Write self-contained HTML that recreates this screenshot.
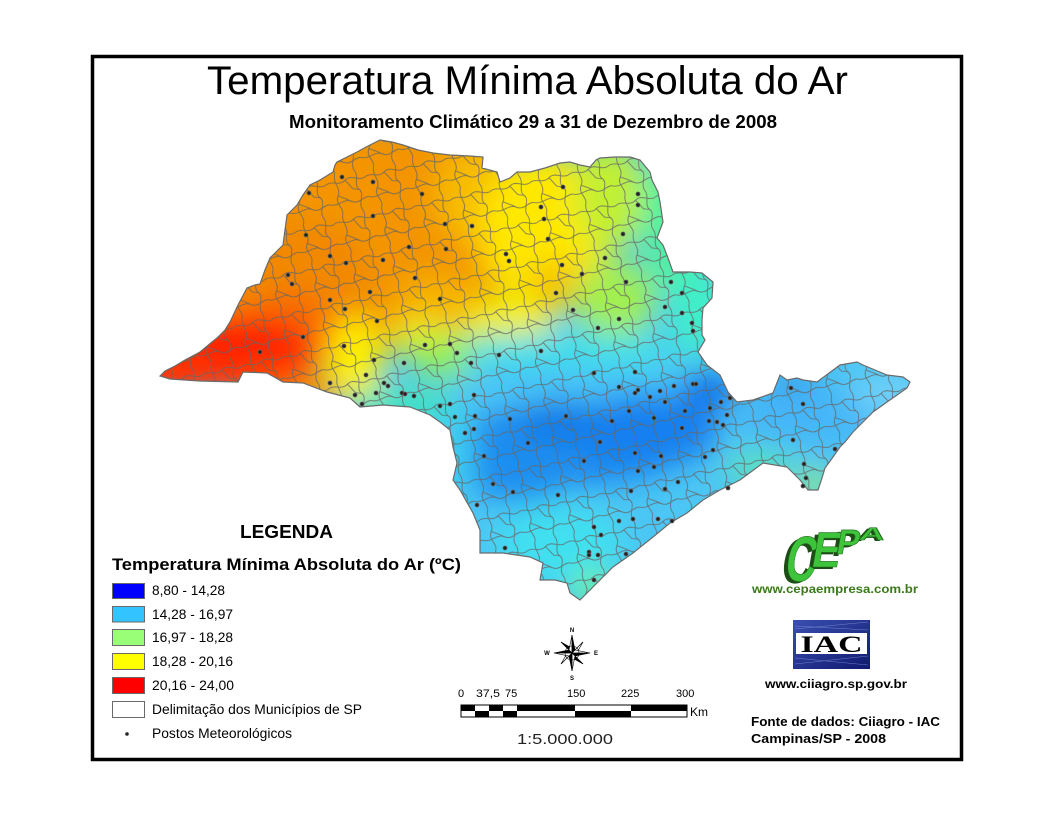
<!DOCTYPE html>
<html><head><meta charset="utf-8"><style>
html,body{margin:0;padding:0;background:#fff;}
svg{display:block;font-family:"Liberation Sans",Arial,sans-serif;}
</style></head><body>
<svg width="1056" height="816" viewBox="0 0 1056 816" xmlns="http://www.w3.org/2000/svg">
<defs>
<clipPath id="sp"><path id="spPath" d="M160,376 L165,371 L175,366 L185,360 L200,352 L212,342 L217,338 L225,330 L230,322 L238,305 L247,288 L255,285 L260,284 L265,270 L270,258 L278,250 L283,245 L285,230 L287,215 L292,210 L297,205 L303,195 L310,185 L320,180 L333,172 L335,165 L337,162 L345,158 L357,152 L368,146 L380,140 L392,142 L403,145 L418,150 L433,153 L450,155 L470,156 L483,157 L482,168 L497,172 L500,182 L510,178 L517,172 L530,172 L545,168 L560,163 L570,162 L580,165 L590,167 L596,160 L600,158 L615,157 L630,157 L640,160 L650,172 L652,180 L658,192 L660,202 L663,222 L657,238 L663,245 L668,258 L673,272 L690,272 L702,273 L713,282 L712,298 L703,308 L702,320 L702,335 L705,340 L698,352 L707,365 L720,375 L728,392 L737,402 L753,400 L773,393 L780,375 L787,380 L797,378 L803,380 L817,382 L840,365 L857,362 L863,365 L887,375 L903,377 L910,382 L907,388 L887,402 L873,412 L863,422 L853,432 L845,442 L840,447 L833,457 L825,468 L822,478 L818,490 L808,490 L800,480 L787,467 L763,463 L740,480 L720,490 L703,500 L687,513 L670,523 L653,537 L633,553 L613,567 L597,583 L585,595 L580,600 L570,593 L567,583 L555,580 L540,580 L543,563 L530,557 L503,553 L480,553 L480,530 L473,513 L460,490 L453,480 L457,463 L453,447 L450,430 L440,422 L430,415 L410,407 L383,405 L360,407 L350,398 L327,392 L303,383 L283,382 L267,373 L243,372 L238,382 L200,381 L170,379 Z"/></clipPath>
<filter id="blur" x="0" y="0" width="1056" height="816" filterUnits="userSpaceOnUse"><feGaussianBlur stdDeviation="15"/></filter>
<pattern id="mesh" width="40" height="40" patternUnits="userSpaceOnUse" patternTransform="rotate(-12)">
<g fill="none" stroke="#666" stroke-width="0.9">
<path d="M0,9 C7,5 13,13 20,8 S33,12 40,9"/>
<path d="M0,29 C9,33 15,25 22,30 S35,27 40,29"/>
<path d="M11,0 C7,9 15,15 10,22 S13,35 11,40"/>
<path d="M31,0 C35,7 27,15 32,20 S28,33 31,40"/>
<path d="M20,8 L26,18 L32,20"/>
<path d="M10,22 L18,27 L22,30"/>
</g>
</pattern>
<linearGradient id="iacb" x1="0" y1="0" x2="1" y2="1"><stop offset="0" stop-color="#3a4fb0"/><stop offset="1" stop-color="#101a70"/></linearGradient>
</defs>

<!-- frame -->
<rect x="92.5" y="56.5" width="869" height="703" fill="none" stroke="#000" stroke-width="3.5"/>

<!-- titles -->
<text x="207" y="94" font-size="40" textLength="641" lengthAdjust="spacingAndGlyphs">Temperatura Mínima Absoluta do Ar</text>
<text x="289" y="128" font-size="18.5" font-weight="bold" textLength="488" lengthAdjust="spacingAndGlyphs">Monitoramento Climático 29 a 31 de Dezembro de 2008</text>

<!-- map -->
<g clip-path="url(#sp)">
<rect x="150" y="130" width="780" height="480" fill="#4cc6f4"/>
<g filter="url(#blur)">
<rect x="140" y="120" width="360" height="230" fill="#f39400"/>
<ellipse cx="390" cy="225" rx="140" ry="105" fill="#f39400"/>
<ellipse cx="300" cy="280" rx="70" ry="60" fill="#f28800"/>
<ellipse cx="290" cy="335" rx="45" ry="45" fill="#f86a00"/>
<ellipse cx="230" cy="352" rx="85" ry="40" fill="#ff2400"/>
<ellipse cx="175" cy="372" rx="50" ry="25" fill="#ff3000"/>
<ellipse cx="270" cy="385" rx="40" ry="20" fill="#ff4a00"/>
<ellipse cx="310" cy="395" rx="30" ry="18" fill="#f88800"/>
<ellipse cx="480" cy="195" rx="45" ry="50" fill="#f7bc00"/>
<ellipse cx="440" cy="305" rx="45" ry="30" fill="#f6b400"/>
<ellipse cx="545" cy="230" rx="65" ry="80" fill="#ffe800"/>
<ellipse cx="555" cy="285" rx="30" ry="25" fill="#f6c400"/>
<ellipse cx="510" cy="320" rx="45" ry="22" fill="#f4f000"/>
<ellipse cx="355" cy="360" rx="28" ry="45" fill="#fff000"/>
<ellipse cx="420" cy="335" rx="30" ry="16" fill="#e8f020"/>
<ellipse cx="470" cy="345" rx="25" ry="15" fill="#a8f050"/>
<ellipse cx="610" cy="195" rx="35" ry="55" fill="#c2f030"/>
<ellipse cx="615" cy="300" rx="40" ry="40" fill="#a2f050"/>
<ellipse cx="675" cy="220" rx="35" ry="75" fill="#50f0a0"/>
<ellipse cx="700" cy="310" rx="30" ry="45" fill="#40f0c8"/>
<ellipse cx="445" cy="358" rx="35" ry="20" fill="#90f050"/>
<ellipse cx="400" cy="405" rx="55" ry="16" fill="#40e8b8"/>
<ellipse cx="570" cy="352" rx="110" ry="20" fill="#40e0e8"/>
<ellipse cx="570" cy="385" rx="120" ry="20" fill="#48c4f8"/>
<ellipse cx="570" cy="445" rx="120" ry="42" fill="#1a8af0"/>
<ellipse cx="650" cy="430" rx="70" ry="38" fill="#1280f0"/>
<ellipse cx="520" cy="470" rx="55" ry="32" fill="#1e8ef0"/>
<ellipse cx="710" cy="390" rx="28" ry="18" fill="#0a6ee8"/>
<ellipse cx="560" cy="420" rx="45" ry="20" fill="#0a78e8"/>
<ellipse cx="795" cy="388" rx="25" ry="12" fill="#0a62e0"/>
<ellipse cx="815" cy="415" rx="80" ry="30" fill="#44b6f8"/>
<ellipse cx="890" cy="395" rx="40" ry="22" fill="#70d0f8"/>
<ellipse cx="760" cy="468" rx="35" ry="14" fill="#60e8b0"/>
<ellipse cx="815" cy="485" rx="18" ry="14" fill="#a0f070"/>
<ellipse cx="560" cy="545" rx="65" ry="40" fill="#40e0f0"/>
<ellipse cx="592" cy="588" rx="22" ry="20" fill="#70f0a0"/>
<ellipse cx="455" cy="450" rx="18" ry="45" fill="#40d0f0"/>
</g>
<rect x="150" y="130" width="780" height="480" fill="url(#mesh)" opacity="0.85"/>
</g>
<use href="#spPath" fill="none" stroke="#6a6a6a" stroke-width="1.2"/>

<!-- stations -->
<g fill="#222" stroke="#666" stroke-width="0.8">
<circle cx="342" cy="177" r="2"/><circle cx="373" cy="182" r="2"/><circle cx="309" cy="193" r="2"/><circle cx="422" cy="194" r="2"/><circle cx="373" cy="216" r="2"/><circle cx="445" cy="224" r="2"/><circle cx="472" cy="226" r="2"/><circle cx="306" cy="235" r="2"/><circle cx="409" cy="247" r="2"/><circle cx="446" cy="249" r="2"/><circle cx="330" cy="256" r="2"/><circle cx="346" cy="263" r="2"/><circle cx="383" cy="260" r="2"/><circle cx="506" cy="254" r="2"/><circle cx="509" cy="261" r="2"/><circle cx="288" cy="275" r="2"/><circle cx="292" cy="284" r="2"/><circle cx="415" cy="278" r="2"/><circle cx="370" cy="292" r="2"/><circle cx="440" cy="299" r="2"/><circle cx="330" cy="300" r="2"/><circle cx="345" cy="309" r="2"/><circle cx="377" cy="321" r="2"/><circle cx="303" cy="337" r="2"/><circle cx="260" cy="352" r="2"/><circle cx="344" cy="346" r="2"/><circle cx="425" cy="345" r="2"/><circle cx="450" cy="344" r="2"/><circle cx="457" cy="353" r="2"/><circle cx="499" cy="355" r="2"/><circle cx="374" cy="360" r="2"/><circle cx="404" cy="363" r="2"/><circle cx="471" cy="363" r="2"/><circle cx="366" cy="375" r="2"/><circle cx="384" cy="383" r="2"/><circle cx="388" cy="386" r="2"/><circle cx="330" cy="383" r="2"/><circle cx="355" cy="395" r="2"/><circle cx="376" cy="393" r="2"/><circle cx="402" cy="393" r="2"/><circle cx="405" cy="394" r="2"/><circle cx="414" cy="396" r="2"/><circle cx="362" cy="404" r="2"/><circle cx="440" cy="406" r="2"/><circle cx="450" cy="404" r="2"/><circle cx="474" cy="395" r="2"/><circle cx="455" cy="417" r="2"/><circle cx="475" cy="416" r="2"/><circle cx="510" cy="419" r="2"/>
<circle cx="563" cy="187" r="2"/><circle cx="541" cy="207" r="2"/><circle cx="544" cy="219" r="2"/><circle cx="548" cy="239" r="2"/><circle cx="638" cy="194" r="2"/><circle cx="638" cy="205" r="2"/><circle cx="623" cy="234" r="2"/><circle cx="605" cy="258" r="2"/><circle cx="562" cy="265" r="2"/><circle cx="582" cy="274" r="2"/><circle cx="556" cy="293" r="2"/><circle cx="626" cy="282" r="2"/><circle cx="671" cy="282" r="2"/><circle cx="682" cy="293" r="2"/><circle cx="665" cy="307" r="2"/><circle cx="682" cy="313" r="2"/><circle cx="573" cy="310" r="2"/><circle cx="619" cy="319" r="2"/><circle cx="692" cy="323" r="2"/><circle cx="693" cy="331" r="2"/><circle cx="598" cy="328" r="2"/><circle cx="541" cy="351" r="2"/><circle cx="594" cy="373" r="2"/><circle cx="635" cy="372" r="2"/><circle cx="619" cy="387" r="2"/><circle cx="638" cy="390" r="2"/><circle cx="635" cy="393" r="2"/><circle cx="650" cy="397" r="2"/><circle cx="660" cy="391" r="2"/><circle cx="674" cy="386" r="2"/><circle cx="665" cy="402" r="2"/><circle cx="693" cy="384" r="2"/><circle cx="696" cy="384" r="2"/><circle cx="730" cy="398" r="2"/><circle cx="721" cy="402" r="2"/><circle cx="710" cy="408" r="2"/><circle cx="685" cy="411" r="2"/><circle cx="727" cy="415" r="2"/><circle cx="629" cy="411" r="2"/><circle cx="654" cy="418" r="2"/><circle cx="709" cy="421" r="2"/><circle cx="717" cy="422" r="2"/><circle cx="723" cy="425" r="2"/><circle cx="682" cy="428" r="2"/><circle cx="566" cy="416" r="2"/><circle cx="612" cy="421" r="2"/><circle cx="791" cy="388" r="2"/><circle cx="803" cy="404" r="2"/>
<circle cx="465" cy="433" r="2"/><circle cx="474" cy="429" r="2"/><circle cx="484" cy="456" r="2"/><circle cx="528" cy="443" r="2"/><circle cx="600" cy="442" r="2"/><circle cx="584" cy="461" r="2"/><circle cx="635" cy="453" r="2"/><circle cx="661" cy="456" r="2"/><circle cx="654" cy="467" r="2"/><circle cx="638" cy="471" r="2"/><circle cx="678" cy="482" r="2"/><circle cx="665" cy="489" r="2"/><circle cx="631" cy="491" r="2"/><circle cx="558" cy="495" r="2"/><circle cx="513" cy="492" r="2"/><circle cx="493" cy="484" r="2"/><circle cx="477" cy="505" r="2"/><circle cx="594" cy="527" r="2"/><circle cx="601" cy="535" r="2"/><circle cx="619" cy="521" r="2"/><circle cx="633" cy="519" r="2"/><circle cx="658" cy="519" r="2"/><circle cx="672" cy="521" r="2"/><circle cx="505" cy="548" r="2"/><circle cx="589" cy="552" r="2"/><circle cx="589" cy="555" r="2"/><circle cx="598" cy="555" r="2"/><circle cx="626" cy="554" r="2"/><circle cx="594" cy="580" r="2"/><circle cx="705" cy="457" r="2"/><circle cx="713" cy="450" r="2"/><circle cx="793" cy="440" r="2"/><circle cx="804" cy="464" r="2"/><circle cx="806" cy="478" r="2"/><circle cx="803" cy="486" r="2"/><circle cx="728" cy="488" r="2"/><circle cx="835" cy="449" r="2"/>
</g>

<!-- legend -->
<text x="240" y="538" font-size="18" font-weight="bold" textLength="93" lengthAdjust="spacingAndGlyphs">LEGENDA</text>
<text x="112" y="570" font-size="16.5" font-weight="bold" textLength="349" lengthAdjust="spacingAndGlyphs">Temperatura Mínima Absoluta do Ar (ºC)</text>
<g stroke="#6a6a6a" stroke-width="1">
<rect x="112.5" y="583.5" width="32" height="15" fill="#0000ff"/>
<rect x="112.5" y="606.5" width="32" height="15.5" fill="#33c4ff"/>
<rect x="112.5" y="629.5" width="32" height="16" fill="#99ff77"/>
<rect x="112.5" y="653.5" width="32" height="16" fill="#ffff00"/>
<rect x="112.5" y="677.5" width="32" height="16" fill="#ff0000"/>
<rect x="112.5" y="701.5" width="32" height="16" fill="#ffffff"/>
</g>
<circle cx="127" cy="734" r="1.6" fill="#222" stroke="#555" stroke-width="0.6"/>
<g font-size="13.5">
<text x="152" y="595" textLength="73" lengthAdjust="spacingAndGlyphs">8,80 - 14,28</text>
<text x="152" y="619" textLength="81" lengthAdjust="spacingAndGlyphs">14,28 - 16,97</text>
<text x="152" y="642" textLength="81" lengthAdjust="spacingAndGlyphs">16,97 - 18,28</text>
<text x="152" y="666" textLength="81" lengthAdjust="spacingAndGlyphs">18,28 - 20,16</text>
<text x="152" y="690" textLength="82" lengthAdjust="spacingAndGlyphs">20,16 - 24,00</text>
<text x="152" y="714" textLength="210" lengthAdjust="spacingAndGlyphs">Delimitação dos Municípios de SP</text>
<text x="152" y="738" textLength="140" lengthAdjust="spacingAndGlyphs">Postos Meteorológicos</text>
</g>

<!-- compass -->
<g transform="translate(572,653)">
<g stroke="#000" stroke-width="0.6">
<polygon points="0,0 -3,-3 -11,-11" fill="#fff"/><polygon points="0,0 3,-3 -11,-11" fill="#000"/>
<polygon points="0,0 3,-3 11,-11" fill="#000"/><polygon points="0,0 3,3 11,-11" fill="#fff"/>
<polygon points="0,0 3,3 11,11" fill="#fff"/><polygon points="0,0 -3,3 11,11" fill="#000"/>
<polygon points="0,0 -3,3 -11,11" fill="#000"/><polygon points="0,0 -3,-3 -11,11" fill="#fff"/>
<polygon points="0,0 -3,-3 0,-18" fill="#fff"/><polygon points="0,0 3,-3 0,-18" fill="#000"/>
<polygon points="0,0 3,-3 18,0" fill="#fff"/><polygon points="0,0 3,3 18,0" fill="#000"/>
<polygon points="0,0 3,3 0,18" fill="#fff"/><polygon points="0,0 -3,3 0,18" fill="#000"/>
<polygon points="0,0 -3,3 -18,0" fill="#fff"/><polygon points="0,0 -3,-3 -18,0" fill="#000"/>
</g>
<circle r="7" fill="none" stroke="#000" stroke-width="0.6"/>
</g>
<g font-size="6" font-weight="bold" text-anchor="middle">
<text x="572" y="632">N</text><text x="572" y="680">S</text><text x="547" y="655">W</text><text x="596" y="655">E</text>
</g>

<!-- scale bar -->
<g font-size="11">
<text x="458" y="697">0</text>
<text x="476" y="697" textLength="24" lengthAdjust="spacingAndGlyphs">37,5</text>
<text x="505" y="697">75</text>
<text x="567" y="697">150</text>
<text x="621" y="697">225</text>
<text x="676" y="697">300</text>
<text x="690" y="716" font-size="12">Km</text>
</g>
<g>
<rect x="461" y="705" width="226" height="12" fill="#fff" stroke="#000" stroke-width="1"/>
<rect x="461" y="705" width="14" height="6" fill="#000"/>
<rect x="489" y="705" width="14" height="6" fill="#000"/>
<rect x="517" y="705" width="58" height="6" fill="#000"/>
<rect x="631" y="705" width="56" height="6" fill="#000"/>
<rect x="475" y="711" width="14" height="6" fill="#000"/>
<rect x="503" y="711" width="14" height="6" fill="#000"/>
<rect x="575" y="711" width="56" height="6" fill="#000"/>
</g>
<text x="517" y="744" font-size="15" textLength="96" lengthAdjust="spacingAndGlyphs" fill="#222">1:5.000.000</text>

<!-- CEPA logo -->
<g font-weight="bold">
<g fill="#1d4d16">
<text transform="translate(779,583) skewX(-10) scale(0.66,1)" font-size="64">C</text>
<text transform="translate(806,569) skewX(-10) scale(0.85,1)" font-size="50">E</text>
<text transform="translate(831,556) skewX(-10)" font-size="35">P</text>
<text transform="translate(855,541) skewX(-10) scale(2,1)" font-size="18">A</text>
</g>
<g fill="#3ec43a" stroke="#1f6a1a" stroke-width="0.6">
<text transform="translate(783,581) skewX(-10) scale(0.66,1)" font-size="64">C</text>
<text transform="translate(810,567) skewX(-10) scale(0.85,1)" font-size="50">E</text>
<text transform="translate(835,554) skewX(-10)" font-size="35">P</text>
<text transform="translate(858,540) skewX(-10) scale(2,1)" font-size="18">A</text>
</g>
</g>
<text x="752" y="593" font-size="12" font-weight="bold" fill="#3a7a1a" textLength="166" lengthAdjust="spacingAndGlyphs">www.cepaempresa.com.br</text>

<!-- IAC logo -->
<rect x="793" y="620" width="77" height="49" fill="url(#iacb)"/>
<g stroke="#8fa0e0" stroke-width="0.6" opacity="0.7">
<line x1="795" y1="626" x2="868" y2="630"/><line x1="795" y1="629" x2="868" y2="622"/>
<line x1="795" y1="658" x2="868" y2="665"/><line x1="795" y1="664" x2="868" y2="656"/>
</g>
<rect x="796" y="633" width="71" height="21" fill="#fff"/>
<text x="831.5" y="652" style="font-family:'Liberation Serif',serif" font-size="23" font-weight="bold" text-anchor="middle" textLength="62" lengthAdjust="spacingAndGlyphs">IAC</text>
<text x="765" y="688" font-size="12" font-weight="bold" textLength="142" lengthAdjust="spacingAndGlyphs">www.ciiagro.sp.gov.br</text>

<!-- source -->
<text x="751" y="726" font-size="13" font-weight="bold" textLength="189" lengthAdjust="spacingAndGlyphs">Fonte de dados: Ciiagro - IAC</text>
<text x="751" y="743" font-size="13" font-weight="bold" textLength="135" lengthAdjust="spacingAndGlyphs">Campinas/SP - 2008</text>
</svg>
</body></html>
